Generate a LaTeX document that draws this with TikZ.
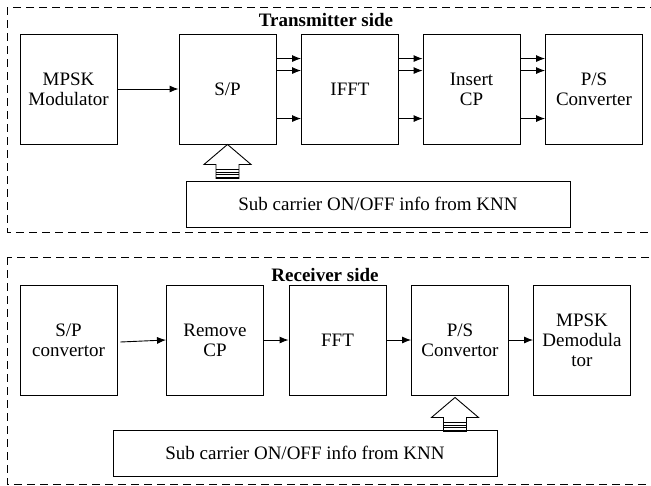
\documentclass[tikz,border=0pt]{standalone}
\usepackage{fontspec}
\setmainfont{Liberation Serif}
\usetikzlibrary{arrows.meta, calc, positioning}

\tikzset{
    blk/.style={draw, line width=0.9pt, minimum width=97pt, minimum height=110pt, align=center, font=\fontsize{19}{20}\selectfont},
    info/.style={draw, line width=0.9pt, minimum width=384pt, minimum height=46pt, font=\fontsize{19}{20}\selectfont},
    sig/.style={line width=0.9pt, -{Latex[length=9pt,width=7pt]}},
    frame/.style={line width=0.9pt, dash pattern=on 8pt off 5pt},
    title/.style={font=\fontsize{19}{20}\selectfont\bfseries},
    upblock/.pic={
        \draw[line width=0.9pt] (0,0) -- (23.5,20) -- (11.5,20) -- (11.5,34) -- (-11.5,34) -- (-11.5,20) -- (-23.5,20) -- cycle;
        \foreach \s in {25,27.5,30,32.5}
            \draw[line width=0.9pt] (-11.5,\s) -- (11.5,\s);
    }
}

\begin{document}
\begin{tikzpicture}[x=1pt, y=-1pt]
    \useasboundingbox (0,0) rectangle (651,485);
    % transmitter side
    \draw[frame] (7,7) rectangle (660,232);
    \node[title] (ttx) at (326,20) {Transmitter side};
    \node[blk] (mod) at (68.5,89) {MPSK\\Modulator};
    \node[blk] (sp) at (227.5,89) {S/P};
    \node[blk] (ifft) at (350,89) {IFFT};
    \node[blk] (icp) at (471.5,89) {Insert\\CP};
    \node[blk] (ps) at (594,89) {P/S\\Converter};
    \node[info] (knnT) at (378,204) {Sub carrier ON/OFF info from KNN};
    \draw[sig] (mod) -- (sp);
    \foreach \d in {25,37,85} {
        \draw[sig] ([yshift=-\d pt]sp.north east) -- ([yshift=-\d pt]ifft.north west);
        \draw[sig] ([yshift=-\d pt]ifft.north east) -- ([yshift=-\d pt]icp.north west);
        \draw[sig] ([yshift=-\d pt]icp.north east) -- ([yshift=-\d pt]ps.north west);
    }
    \pic at (sp.south) {upblock};

    % receiver side
    \draw[frame] (7,257) rectangle (660,484);
    \node[title] (trx) at (325,275) {Receiver side};
    \node[blk] (spr) at (68.5,340) {S/P\\convertor};
    \node[blk] (rcp) at (215,340) {Remove\\CP};
    \node[blk] (fft) at (337.5,340) {FFT};
    \node[blk] (psr) at (460,340) {P/S\\Convertor};
    \node[blk] (demod) at (582,340) {MPSK\\Demodula\\tor};
    \node[info] (knnR) at (305,453) {Sub carrier ON/OFF info from KNN};
    \draw[sig] ([xshift=3pt,yshift=-2pt]spr.east) -- (rcp.west);
    \draw[sig] (rcp) -- (fft);
    \draw[sig] (fft) -- (psr);
    \draw[sig] (psr) -- (demod);
    \pic at ([xshift=-5pt,yshift=-2pt]psr.south) {upblock};
\end{tikzpicture}
\end{document}
